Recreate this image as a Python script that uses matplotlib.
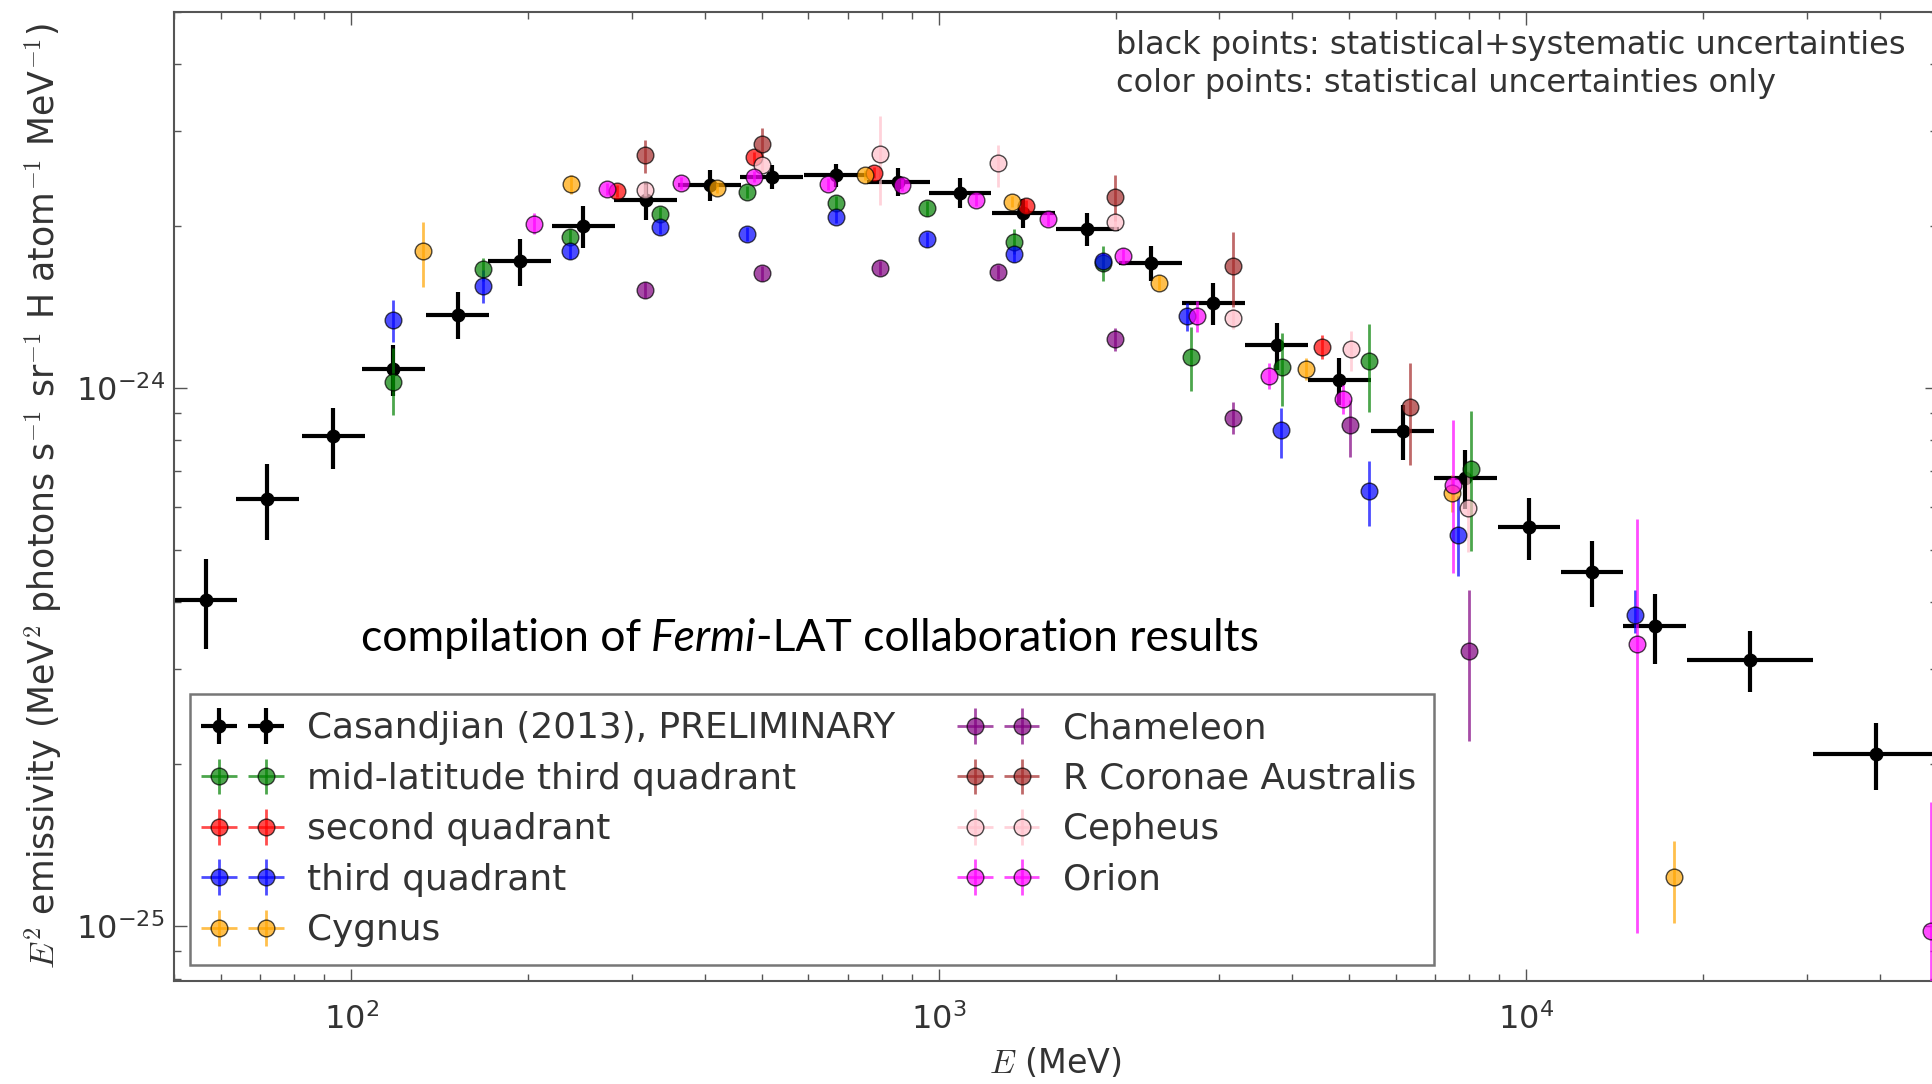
import numpy as np
import matplotlib
matplotlib.use('Agg')
import matplotlib.pyplot as plt
from matplotlib.ticker import NullFormatter

# ===================== DATA (values in units of 1e-25) =====================
UNIT = 1e-25

# Casandjian (2013): bin centres (MeV), half bin width (dex), emissivity, error
cas_e = [56.6, 72.0, 93.2, 117.9, 151.7, 193.7, 248.3, 317.4, 407.9, 519.5, 668.3, 853.3, 1087,
         1393, 1789, 2295, 2933, 3760, 4806, 6160, 7877, 10110, 12940, 16540, 24010, 39340]
cas_hw = [0.0535] * 24 + [0.107, 0.107]
cas_y = [4.04, 6.22, 8.13, 10.85, 13.68, 17.18, 20.0, 22.3, 23.84, 24.70, 24.88, 24.17, 23.07,
         21.13, 19.72, 17.10, 14.38, 12.0, 10.33, 8.32, 6.81, 5.52, 4.56, 3.61, 3.13, 2.09]
cas_err = [0.77, 1.0, 1.06, 1.19, 1.37, 1.72, 1.8, 1.78, 1.55, 1.24, 1.24, 1.45, 1.5,
           1.27, 1.38, 1.28, 1.29, 1.2, 1.03, 0.96, 0.85, 0.72, 0.64, 0.54, 0.41, 0.30]

# mid-latitude third quadrant
green_e = [117.9, 167.4, 235.7, 335.3, 472.1, 668.3, 953.6, 1342, 1905, 2693, 3835, 5392, 8040]
green_y = [10.28, 16.63, 19.11, 21.06, 23.17, 22.05, 21.58, 18.71, 17.08, 11.41, 10.94, 11.20, 7.07]
green_lo = [1.36, 0.8, 0.6, 0.6, 0.6, 0.7, 0.7, 1.0, 1.3, 1.55, 1.69, 2.19, 2.1]
green_hi = [1.60, 0.8, 0.6, 0.6, 0.6, 0.7, 0.7, 1.0, 1.3, 1.59, 1.69, 1.95, 1.98]

# second quadrant
red_e = [283.7, 484.6, 775.6, 1407, 4496]
red_y = [23.24, 26.83, 25.12, 21.79, 11.94]
red_lo = [0.6, 0.6, 0.6, 0.6, 0.6]
red_hi = [0.6, 0.6, 0.6, 0.6, 0.6]

# third quadrant
blue_e = [117.9, 167.4, 235.7, 335.3, 472.1, 668.3, 953.6, 1342, 1905, 2649, 3819, 5398, 7640, 15300]
blue_y = [13.38, 15.48, 17.98, 19.95, 19.34, 20.82, 18.90, 17.73, 17.18, 13.58, 8.34, 6.43, 5.34, 3.78]
blue_lo = [1.2, 1.1, 0.6, 0.6, 0.6, 0.6, 0.6, 0.6, 0.6, 0.8, 0.92, 0.88, 0.87, 0.27]
blue_hi = [1.2, 1.1, 0.6, 0.6, 0.6, 0.6, 0.6, 0.6, 0.6, 0.8, 0.84, 0.88, 0.95, 0.44]

# Cygnus
cyg_e = [132.6, 236.3, 418.8, 748.8, 1334, 2371, 4212, 7464, 17860]
cyg_y = [17.93, 23.91, 23.50, 24.88, 22.20, 15.70, 10.85, 6.38, 1.235]
cyg_lo = [2.56, 1.0, 0.5, 0.5, 0.5, 0.5, 0.5, 0.5, 0.22]
cyg_hi = [2.37, 1.0, 0.5, 0.5, 0.5, 0.5, 0.5, 0.5, 0.205]

# Chameleon
cham_e = [316.2, 500.6, 793.7, 1260, 1995, 3172, 5010, 7980]
cham_y = [15.22, 16.33, 16.69, 16.45, 12.33, 8.80, 8.55, 3.24]
cham_lo = [0.5, 0.5, 0.5, 0.5, 0.6, 0.6, 1.09, 1.03]
cham_hi = [0.5, 0.5, 0.5, 0.5, 0.6, 0.6, 0.96, 0.97]

# R Coronae Australis
rcra_e = [316.2, 500.6, 1995, 3172, 6339]
rcra_y = [27.10, 28.40, 22.62, 16.86, 9.22]
rcra_lo = [2.04, 1.5, 2.2, 2.69, 2.02]
rcra_hi = [1.79, 2.0, 2.26, 2.59, 1.91]

# Cepheus
cep_e = [316.2, 500.6, 793.7, 1260, 1995, 3172, 5024, 7968]
cep_y = [23.34, 25.96, 27.18, 26.22, 20.38, 13.48, 11.81, 5.99]
cep_lo = [0.6, 0.8, 5.29, 2.55, 0.7, 0.6, 1.04, 1.04]
cep_hi = [0.6, 0.8, 4.82, 2.05, 0.7, 0.6, 0.93, 1.04]

# Orion
ori_e = [204.6, 272.8, 363.7, 484.6, 647.2, 864.7, 1156, 1536, 2056, 2748, 3652, 4882, 7494, 15430, 48910]
ori_y = [20.16, 23.44, 24.01, 24.69, 23.94, 23.84, 22.36, 20.59, 17.60, 13.58, 10.54, 9.54, 6.61, 3.34, 0.98]
ori_lo = [0.8, 0.6, 0.6, 0.6, 0.6, 0.6, 0.6, 0.6, 0.6, 0.9, 0.6, 0.6, 2.07, 2.37, 0.72]
ori_hi = [1.0, 0.6, 0.6, 0.6, 0.6, 0.6, 0.6, 0.6, 0.6, 0.9, 0.6, 0.6, 2.10, 2.36, 0.72]

colored = [
    (green_e, green_y, green_lo, green_hi, 'green', 'mid-latitude third quadrant'),
    (red_e, red_y, red_lo, red_hi, 'red', 'second quadrant'),
    (blue_e, blue_y, blue_lo, blue_hi, 'blue', 'third quadrant'),
    (cyg_e, cyg_y, cyg_lo, cyg_hi, 'orange', 'Cygnus'),
    (cham_e, cham_y, cham_lo, cham_hi, 'purple', 'Chameleon'),
    (rcra_e, rcra_y, rcra_lo, rcra_hi, 'brown', 'R Coronae Australis'),
    (cep_e, cep_y, cep_lo, cep_hi, 'pink', 'Cepheus'),
    (ori_e, ori_y, ori_lo, ori_hi, 'magenta', 'Orion'),
]

# ===================== PLOT =====================
plt.rcParams['mathtext.fontset'] = 'cm'
txt_col = '#333333'

fig = plt.figure(figsize=(19.33, 10.84), dpi=100)
ax = fig.add_axes([0.0902, 0.0946, 0.9118, 0.8946])
ax.set_xscale('log')
ax.set_yscale('log')

e = np.array(cas_e)
hw = np.array(cas_hw)
xerr = [e - e * 10 ** -hw, e * 10 ** hw - e]
ax.errorbar(e, np.array(cas_y) * UNIT, xerr=xerr, yerr=np.array(cas_err) * UNIT,
            fmt='o', color='k', ms=9, elinewidth=3, capsize=0,
            label='Casandjian (2013), PRELIMINARY', zorder=2)

for ce, cy, clo, chi, col, lab in colored:
    ce = np.array(ce)
    ax.errorbar(ce, np.array(cy) * UNIT, xerr=np.zeros_like(ce),
                yerr=[np.array(clo) * UNIT, np.array(chi) * UNIT],
                fmt='o', color=col, mec='k', mew=1, ms=12, elinewidth=2,
                capsize=0, alpha=0.7, label=lab, zorder=3)

ax.set_xlim(50, 50000)
ax.set_ylim(7.9e-26, 5e-24)
ax.set_xticks([1e2, 1e3, 1e4])
ax.set_yticks([1e-25, 1e-24])
ax.xaxis.set_minor_formatter(NullFormatter())
ax.yaxis.set_minor_formatter(NullFormatter())

for s in ax.spines.values():
    s.set_color('#555555')
    s.set_linewidth(1.5)
ax.tick_params(which='both', direction='in', top=True, right=True,
               labelsize=23, labelcolor=txt_col, color='#555555')
ax.tick_params(axis='x', which='both', pad=16)
ax.tick_params(axis='y', which='both', pad=7)
ax.tick_params(which='major', length=9, width=1)
ax.tick_params(which='minor', length=5, width=1)

ax.set_xlabel(r'$E$ (MeV)', fontsize=24, color=txt_col, labelpad=7)
ax.set_ylabel(r'$E^2$ emissivity (MeV$^2$ photons s$^{-1}$ sr$^{-1}$ H atom$^{-1}$ MeV$^{-1}$)',
              fontsize=25, color=txt_col, labelpad=8)

ax.text(0.534, 0.981, 'black points: statistical+systematic uncertainties\n'
        'color points: statistical uncertainties only',
        transform=ax.transAxes, ha='left', va='top', fontsize=23, color=txt_col,
        linespacing=1.3)

t1 = ax.text(0.106, 0.332, 'compilation of', transform=ax.transAxes,
             ha='left', va='bottom', fontsize=32, family='Lato', color='k')
t2 = ax.annotate('Fermi', xy=(1, 0), xycoords=t1, xytext=(7, 0), textcoords='offset points',
                 ha='left', va='bottom', fontsize=32, family='Lato', style='italic', color='k')
ax.annotate('-LAT collaboration results', xy=(1, 0), xycoords=t2,
            ha='left', va='bottom', fontsize=32, family='Lato', color='k')

leg = ax.legend(loc='lower left', ncol=2, numpoints=2, fontsize=25.8, handlelength=1.9,
                handletextpad=0.85, borderpad=0.5, borderaxespad=0.45,
                columnspacing=1.93, labelspacing=0.46, fancybox=False)
leg.get_frame().set_edgecolor('#555555')
leg.get_frame().set_linewidth(1.8)
for t in leg.get_texts():
    t.set_color(txt_col)

fig.savefig('out.png', dpi=100)
